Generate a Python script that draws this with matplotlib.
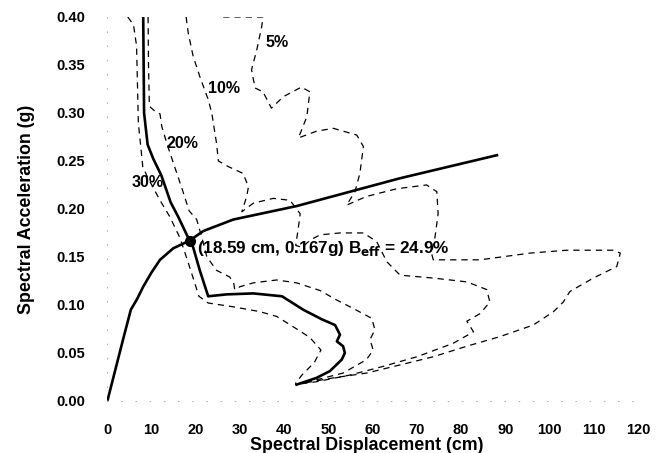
import matplotlib.pyplot as plt

plt.rcParams['font.family'] = ['Liberation Sans', 'DejaVu Sans']
plt.rcParams['font.weight'] = 'bold'

# capacity curve (solid)
cap_x = [0, 3.6, 5.3, 6.7, 8.1, 10.0, 11.9, 14.9, 18.59, 21.7, 28.5, 42.8, 54.9, 66.2, 88.1]
cap_y = [0, 0.065, 0.095, 0.106, 0.119, 0.134, 0.147, 0.159, 0.167, 0.177, 0.189, 0.203, 0.218, 0.232, 0.256]

# demand curve at B_eff = 24.9% (solid)
d25_x = [8.1, 8.2, 8.3, 9.1, 10.4, 12.2, 14.3, 16.0, 18.59, 19.4, 20.9, 22.8, 27.0, 33.0, 39.5,
         44.3, 48.5, 51.5, 52.6, 51.9, 53.3, 53.7, 53.0, 50.3, 47.3, 42.8]
d25_y = [0.40, 0.35, 0.30, 0.267, 0.252, 0.235, 0.207, 0.192, 0.167, 0.160, 0.136, 0.109, 0.111, 0.112, 0.109,
         0.095, 0.085, 0.079, 0.069, 0.062, 0.057, 0.050, 0.043, 0.031, 0.024, 0.017]

# demand curves at fixed damping (dashed)
d30_x = [4.6, 5.9, 6.6, 6.8, 7.0, 7.7, 8.0, 9.2, 10.5, 11.9, 14.1, 16.4, 18.0, 19.4, 20.7, 22.8,
         28.5, 34.5, 38.3, 42.8, 45.8, 48.3, 46.8, 44.0, 42.5]
d30_y = [0.40, 0.392, 0.37, 0.33, 0.29, 0.258, 0.244, 0.232, 0.221, 0.209, 0.192, 0.170, 0.148, 0.128, 0.109, 0.102,
         0.098, 0.093, 0.088, 0.075, 0.066, 0.053, 0.040, 0.027, 0.018]

d20_x = [9.2, 9.3, 9.5, 10.7, 11.9, 12.3, 13.6, 15.5, 17.1, 18.5, 20.2, 21.5, 22.5, 24.7, 27.7, 28.6,
         28.8, 30.0, 33.0, 38.3, 42.8, 48.1, 51.9, 54.9, 59.8, 60.5, 59.4, 60.1, 58.6, 53.3, 47.3, 43.6]
d20_y = [0.40, 0.35, 0.307, 0.302, 0.299, 0.286, 0.266, 0.240, 0.218, 0.198, 0.189, 0.168, 0.150, 0.136, 0.129, 0.122,
         0.116, 0.119, 0.123, 0.126, 0.123, 0.115, 0.105, 0.098, 0.086, 0.074, 0.064, 0.053, 0.043, 0.029, 0.022, 0.019]

d10_x = [17.8, 18.3, 19.4, 20.9, 22.8, 23.6, 24.7, 25.1, 27.4, 30.7, 31.9, 31.5, 30.4, 33.0, 37.5, 41.3,
         43.6, 43.2, 42.6, 44.0, 46.0, 48.1, 52.6, 57.9, 60.9, 63.2, 66.2, 73.7, 81.3, 85.8, 86.5, 84.3,
         81.3, 82.8, 78.2, 70.0, 62.4, 54.9, 47.3, 42.5]
d10_y = [0.40, 0.383, 0.359, 0.338, 0.314, 0.300, 0.268, 0.250, 0.244, 0.237, 0.223, 0.213, 0.197, 0.206, 0.211, 0.209,
         0.195, 0.181, 0.162, 0.160, 0.168, 0.173, 0.175, 0.175, 0.166, 0.145, 0.131, 0.128, 0.124, 0.116, 0.103, 0.091,
         0.083, 0.072, 0.060, 0.046, 0.036, 0.027, 0.020, 0.017]

d5_x = [26.2, 30.0, 35.2, 34.9, 33.8, 32.6, 33.4, 35.2, 37.1, 39.8, 43.9, 45.8, 45.1, 43.2, 47.3, 51.1,
        56.4, 57.9, 57.1, 56.0, 54.1, 58.6, 65.4, 72.2, 74.5, 74.8, 74.1, 73.3, 73.7, 84.3, 95.6, 103.9,
        114.4, 116.0, 115.2, 109.9, 104.6, 103.1, 100.9, 96.3, 88.8, 81.3, 73.7, 66.2, 58.6, 51.1, 45.0, 42.5]
d5_y = [0.40, 0.40, 0.40, 0.390, 0.366, 0.345, 0.326, 0.322, 0.305, 0.317, 0.327, 0.322, 0.296, 0.274, 0.281, 0.284,
        0.277, 0.265, 0.237, 0.218, 0.204, 0.213, 0.221, 0.225, 0.218, 0.195, 0.171, 0.154, 0.147, 0.147, 0.154, 0.157,
        0.157, 0.154, 0.140, 0.128, 0.114, 0.103, 0.093, 0.079, 0.067, 0.057, 0.046, 0.0375, 0.029, 0.024, 0.019, 0.017]

# damping labels
pct_text = ['5%', '10%', '20%', '30%']
pct_x = [38.3, 26.4, 16.9, 9.0]
pct_y = [0.373, 0.326, 0.268, 0.228]

perf_x, perf_y = 18.59, 0.167

x_ticks = list(range(0, 121, 10))
y_ticks = [0.0, 0.05, 0.10, 0.15, 0.20, 0.25, 0.30, 0.35, 0.40]

fig = plt.figure(figsize=(6.67, 4.53), dpi=100)
ax = fig.add_axes([0.161, 0.115, 0.7955, 0.8475])

dash = dict(color='black', lw=0.9, linestyle=(0, (5, 4)))
for xs, ys in [(d30_x, d30_y), (d20_x, d20_y), (d10_x, d10_y), (d5_x, d5_y)]:
    ax.plot(xs, ys, **dash)

ax.plot(cap_x, cap_y, color='black', lw=1.9)
ax.plot(d25_x, d25_y, color='black', lw=1.9)
ax.plot(perf_x, perf_y, 'o', color='black', ms=7)

for t, x, y in zip(pct_text, pct_x, pct_y):
    ax.text(x, y, t, ha='center', va='center', fontsize=11.5, fontweight='bold')

ax.text(20.2, 0.159, '(18.59 cm, 0.167g) B$_{\\mathbf{eff}}$ = 24.9%',
        ha='left', va='center', fontsize=12.3, fontweight='bold')

ax.set_xlim(0, 120)
ax.set_ylim(0, 0.40)
ax.set_xticks(x_ticks)
ax.set_yticks(y_ticks)
ax.set_yticklabels(['%.2f' % v for v in y_ticks])
ax.tick_params(length=0, pad=16, labelsize=10.5)
for lab in ax.get_xticklabels() + ax.get_yticklabels():
    lab.set_fontweight('bold')

for s in ['top', 'right']:
    ax.spines[s].set_visible(False)
for s in ['left', 'bottom']:
    ax.spines[s].set_color('#aaaaaa')
    ax.spines[s].set_linewidth(0.7)
    ax.spines[s].set_linestyle((0, (0.6, 14)))

ax.set_xlabel('Spectral Displacement (cm)', fontsize=12.8, fontweight='bold')
ax.set_ylabel('Spectral Acceleration (g)', fontsize=12.8, fontweight='bold')
ax.xaxis.set_label_coords(0.4886, -0.094)
ax.yaxis.set_label_coords(-0.137, 0.5)

fig.savefig('out.png', dpi=100)
